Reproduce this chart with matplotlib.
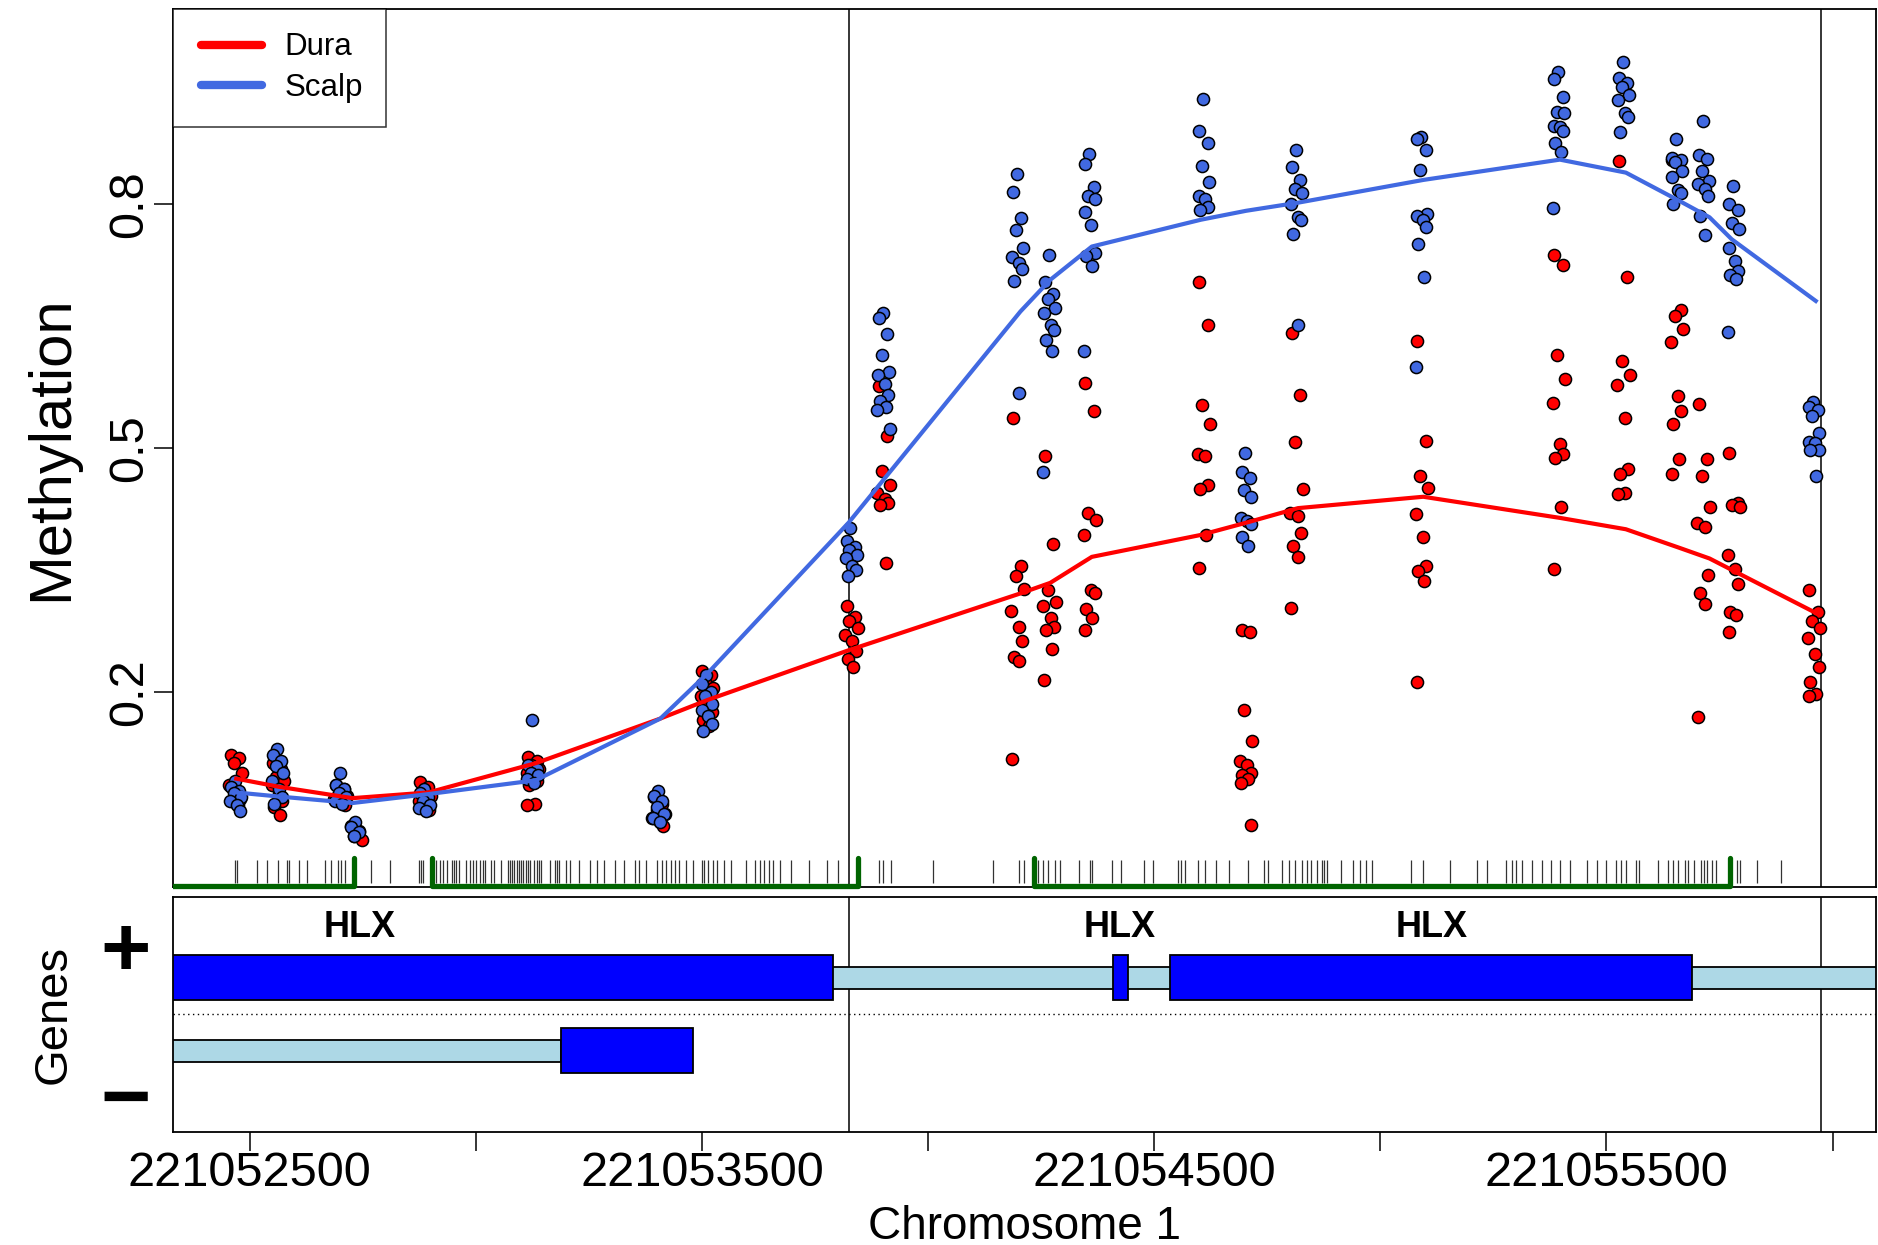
import numpy as np
import matplotlib
matplotlib.use('Agg')
import matplotlib.pyplot as plt
from matplotlib.patches import Rectangle
from matplotlib.transforms import Bbox, TransformedBbox

plt.rcParams['font.family'] = ['Liberation Sans', 'DejaVu Sans']

base = 221052000
x_range = [330, 4096]

# smoothed group means (offsets from base)
line_pos = [470, 564, 727, 895, 1132, 1408, 1513, 1824, 2204, 2270, 2362, 2603, 2703, 2818,
            3095, 3397, 3543, 3662, 3728, 3777, 3963]
dura_smooth = [0.093, 0.083, 0.069, 0.076, 0.112, 0.167, 0.190, 0.251, 0.321, 0.334, 0.366,
               0.393, 0.408, 0.426, 0.440, 0.414, 0.400, 0.377, 0.364, 0.350, 0.297]
scalp_smooth = [0.076, 0.071, 0.063, 0.074, 0.091, 0.167, 0.223, 0.408, 0.668, 0.707, 0.748,
                0.781, 0.792, 0.802, 0.830, 0.855, 0.839, 0.804, 0.784, 0.757, 0.681]

# per-sample values at each probe
cluster_pos = [469, 562, 701, 734, 887, 1126, 1404, 1511, 1830, 1902, 2198, 2269, 2358, 2610,
               2703, 2815, 3092, 3395, 3538, 3656, 3715, 3782, 3959]
dura_vals = [
    [0.122, 0.118, 0.112, 0.100, 0.085, 0.075, 0.068, 0.065, 0.060],
    [0.112, 0.105, 0.095, 0.090, 0.085, 0.075, 0.065, 0.058, 0.048],
    [0.085, 0.080, 0.075, 0.072, 0.068, 0.065, 0.060],
    [0.035, 0.028, 0.022, 0.017],
    [0.089, 0.083, 0.078, 0.072, 0.066, 0.060, 0.055],
    [0.120, 0.115, 0.110, 0.105, 0.100, 0.095, 0.090, 0.085, 0.062, 0.060],
    [0.070, 0.062, 0.055, 0.050, 0.045, 0.040, 0.035],
    [0.225, 0.220, 0.212, 0.205, 0.195, 0.185, 0.175, 0.165, 0.158],
    [0.305, 0.292, 0.287, 0.278, 0.270, 0.262, 0.250, 0.240, 0.230],
    [0.576, 0.515, 0.472, 0.455, 0.445, 0.437, 0.432, 0.430, 0.359],
    [0.537, 0.355, 0.343, 0.327, 0.299, 0.280, 0.262, 0.243, 0.238, 0.117],
    [0.490, 0.382, 0.325, 0.310, 0.306, 0.291, 0.280, 0.276, 0.252, 0.214],
    [0.580, 0.546, 0.420, 0.412, 0.393, 0.325, 0.322, 0.302, 0.291, 0.276],
    [0.704, 0.652, 0.553, 0.529, 0.493, 0.490, 0.455, 0.450, 0.393, 0.352],
    [0.276, 0.274, 0.177, 0.139, 0.115, 0.110, 0.100, 0.097, 0.093, 0.088, 0.036],
    [0.641, 0.565, 0.508, 0.449, 0.420, 0.416, 0.395, 0.379, 0.366, 0.303],
    [0.632, 0.509, 0.465, 0.451, 0.419, 0.391, 0.355, 0.348, 0.336, 0.212],
    [0.738, 0.725, 0.615, 0.585, 0.555, 0.505, 0.493, 0.488, 0.427, 0.351],
    [0.853, 0.710, 0.607, 0.590, 0.577, 0.537, 0.474, 0.468, 0.445, 0.443],
    [0.855, 0.670, 0.663, 0.646, 0.630, 0.564, 0.546, 0.530, 0.486, 0.468],
    [0.554, 0.486, 0.465, 0.428, 0.408, 0.403, 0.344, 0.322, 0.308, 0.169],
    [0.494, 0.432, 0.430, 0.427, 0.368, 0.351, 0.333, 0.298, 0.295, 0.273],
    [0.325, 0.298, 0.287, 0.278, 0.266, 0.246, 0.231, 0.212, 0.197, 0.195],
]
scalp_vals = [
    [0.090, 0.083, 0.078, 0.075, 0.070, 0.065, 0.060, 0.053],
    [0.130, 0.122, 0.115, 0.108, 0.100, 0.090, 0.080, 0.070, 0.062],
    [0.100, 0.085, 0.080, 0.075, 0.070, 0.065, 0.062],
    [0.040, 0.033, 0.027, 0.022],
    [0.080, 0.075, 0.070, 0.065, 0.060, 0.057, 0.053],
    [0.165, 0.110, 0.105, 0.100, 0.097, 0.092, 0.088],
    [0.078, 0.072, 0.065, 0.058, 0.050, 0.045, 0.040],
    [0.220, 0.210, 0.200, 0.195, 0.185, 0.178, 0.170, 0.160, 0.152],
    [0.402, 0.385, 0.378, 0.375, 0.368, 0.365, 0.355, 0.350, 0.342],
    [0.666, 0.660, 0.640, 0.614, 0.594, 0.590, 0.579, 0.565, 0.558, 0.550, 0.547, 0.524],
    [0.837, 0.815, 0.783, 0.768, 0.746, 0.735, 0.728, 0.720, 0.705, 0.568],
    [0.738, 0.704, 0.690, 0.684, 0.672, 0.666, 0.652, 0.645, 0.633, 0.619, 0.470],
    [0.862, 0.849, 0.821, 0.810, 0.806, 0.790, 0.774, 0.740, 0.736, 0.724, 0.620],
    [0.930, 0.890, 0.875, 0.847, 0.828, 0.810, 0.806, 0.797, 0.793],
    [0.494, 0.470, 0.463, 0.448, 0.440, 0.414, 0.410, 0.407, 0.390, 0.379],
    [0.867, 0.846, 0.830, 0.819, 0.814, 0.800, 0.784, 0.781, 0.763, 0.652],
    [0.883, 0.880, 0.867, 0.842, 0.788, 0.785, 0.781, 0.772, 0.751, 0.710, 0.600],
    [0.963, 0.954, 0.932, 0.914, 0.912, 0.897, 0.895, 0.890, 0.876, 0.864, 0.796],
    [0.975, 0.955, 0.949, 0.945, 0.934, 0.928, 0.913, 0.908, 0.889],
    [0.880, 0.857, 0.855, 0.852, 0.841, 0.833, 0.818, 0.814, 0.800],
    [0.902, 0.861, 0.856, 0.841, 0.829, 0.825, 0.819, 0.810, 0.785, 0.762],
    [0.822, 0.800, 0.793, 0.777, 0.770, 0.746, 0.730, 0.718, 0.713, 0.708, 0.643],
    [0.557, 0.550, 0.547, 0.540, 0.518, 0.508, 0.506, 0.498, 0.497, 0.466],
]
# horizontal spread of samples around a probe (bp)
jitter = [-10, 8, -4, 14, -14, 2, 10, -8, 4, -12, 12, -2]

# CpG sites and CpG islands
cpg_pos = [468, 471, 515, 537, 562, 582, 587, 608, 626, 666, 680, 695, 702, 710, 767, 811, 873,
           878, 883, 912, 920, 927, 937, 947, 952, 957, 962, 977, 986, 993, 1001, 1009, 1016,
           1021, 1033, 1041, 1056, 1070, 1075, 1080, 1085, 1090, 1095, 1100, 1105, 1110, 1115,
           1120, 1128, 1134, 1139, 1144, 1164, 1174, 1179, 1184, 1199, 1208, 1228, 1253, 1268,
           1283, 1307, 1327, 1352, 1361, 1376, 1401, 1411, 1421, 1431, 1440, 1450, 1465, 1480,
           1500, 1505, 1514, 1524, 1534, 1549, 1564, 1598, 1618, 1628, 1638, 1648, 1658, 1672,
           1697, 1736, 1776, 1801, 1892, 1901, 1917, 2010, 2143, 2201, 2211, 2244, 2254, 2265,
           2280, 2291, 2334, 2359, 2363, 2406, 2426, 2478, 2498, 2553, 2560, 2567, 2596, 2613,
           2636, 2665, 2708, 2742, 2751, 2782, 2797, 2811, 2826, 2837, 2847, 2861, 2871, 2876,
           2883, 2912, 2940, 2955, 2969, 2981, 3067, 3095, 3153, 3213, 3235, 3278, 3292, 3299,
           3314, 3335, 3357, 3378, 3397, 3419, 3457, 3479, 3500, 3522, 3532, 3543, 3565, 3572,
           3615, 3637, 3647, 3658, 3673, 3680, 3694, 3709, 3716, 3723, 3733, 3742, 3788, 3795,
           3834, 3885]
island_start = [150, 902, 2234]
island_end = [730, 1845, 3773]

dmr_bounds = [1825, 3974]

# gene models
plus_utr = [(150, 4300)]
plus_exons = [(150, 1790), (2408, 2441), (2534, 3690)]
minus_utr = [(150, 1189)]
minus_exons = [(1189, 1481)]
gene_labels = ['HLX', 'HLX', 'HLX']
gene_label_pos = [743, 2424, 3113]

x_ticks = [500, 1000, 1500, 2000, 2500, 3000, 3500, 4000]

red = '#FF0000'
blue = '#4169E1'

fig = plt.figure(figsize=(18.78, 12.45), dpi=100)
ax = fig.add_axes([0.0921, 0.2878, 0.9068, 0.7047])
gx = fig.add_axes([0.0921, 0.0908, 0.9068, 0.1890])

xl = (base + x_range[0], base + x_range[1])

# points
for pos, dv, sv in zip(cluster_pos, dura_vals, scalp_vals):
    dx = [base + pos + jitter[i % len(jitter)] for i in range(len(dv))]
    sx = [base + pos - jitter[(i + 5) % len(jitter)] for i in range(len(sv))]
    ax.scatter(dx, dv, s=76, c=red, edgecolors='black', linewidths=1.1, zorder=3)
    ax.scatter(sx, sv, s=76, c=blue, edgecolors='black', linewidths=1.1, zorder=3)

lp = [base + p for p in line_pos]
ax.plot(lp, dura_smooth, color=red, lw=3.0, zorder=4, label='Dura')
ax.plot(lp, scalp_smooth, color=blue, lw=3.0, zorder=4, label='Scalp')

# rug of CpG sites
ax.vlines([base + p for p in cpg_pos], -0.036, -0.007, color='0.2', lw=0.9, zorder=2)
clip = TransformedBbox(Bbox([[0, -0.05], [1, 1]]), ax.transAxes)
for s, e in zip(island_start, island_end):
    ln, = ax.plot([base + s, base + s, base + e, base + e], [-0.005, -0.039, -0.039, -0.005],
                  color='#006400', lw=3.8, solid_capstyle='round', solid_joinstyle='round',
                  zorder=5)
    ln.set_clip_box(clip)

for b in dmr_bounds:
    ax.axvline(base + b, color='black', lw=1.1, zorder=1)
    gx.axvline(base + b, color='black', lw=1.1, zorder=1)

ax.set_xlim(xl)
ax.set_ylim(-0.04, 1.04)
ax.set_xticks([])
ax.set_yticks([0.2, 0.5, 0.8], ['0.2', '0.5', '0.8'], rotation=90, va='center')
ax.tick_params(axis='y', length=14, width=1.1, labelsize=35, pad=1)
ax.set_ylabel('Methylation', fontsize=43, labelpad=20)

leg = ax.legend(loc='upper left', fontsize=22.5, frameon=True, fancybox=False,
                borderaxespad=0, handlelength=2.1, handletextpad=0.72,
                labelspacing=0.35, borderpad=0.74)
leg.get_frame().set_edgecolor('black')
leg.get_frame().set_linewidth(1.1)
for h in leg.legend_handles:
    h.set_linewidth(6)
    h.set_solid_capstyle('round')
    xd = np.asarray(h.get_xdata(), dtype=float)
    h.set_xdata(np.linspace(xd[0] + 0.07 * (xd[-1] - xd[0]), xd[-1], len(xd)))

# gene panel
gh_exon = 0.19
gh_utr = 0.095
for s, e in plus_utr:
    gx.add_patch(Rectangle((base + s, 0.31 - gh_utr), e - s, 2 * gh_utr,
                           facecolor='lightblue', edgecolor='black', lw=1.3))
for s, e in plus_exons:
    gx.add_patch(Rectangle((base + s, 0.31 - gh_exon), e - s, 2 * gh_exon,
                           facecolor='#0000FF', edgecolor='black', lw=1.3))
for s, e in minus_utr:
    gx.add_patch(Rectangle((base + s, -0.31 - gh_utr), e - s, 2 * gh_utr,
                           facecolor='lightblue', edgecolor='black', lw=1.3))
for s, e in minus_exons:
    gx.add_patch(Rectangle((base + s, -0.31 - gh_exon), e - s, 2 * gh_exon,
                           facecolor='#0000FF', edgecolor='black', lw=1.3))
for lab, p in zip(gene_labels, gene_label_pos):
    gx.text(base + p, 0.735, lab, ha='center', va='center', fontsize=26, fontweight='bold')
gx.axhline(0, color='black', lw=1.0, ls=(0, (1, 2.5)))

gx.set_xlim(xl)
gx.set_ylim(-1, 1)
gx.set_yticks([])
gx.text(-0.028, 0.51, '+', transform=gx.get_yaxis_transform(), ha='center', va='center',
        fontsize=62, fontweight='bold')
gx.text(-0.028, -0.75, '\u2212', transform=gx.get_yaxis_transform(), ha='center', va='center',
        fontsize=62, fontweight='bold')
gx.set_ylabel('Genes', fontsize=34, labelpad=70)
gx.set_xticks([base + t for t in x_ticks],
              [str(base + t) if i % 2 == 0 else '' for i, t in enumerate(x_ticks)])
gx.tick_params(axis='x', length=14, width=1.1, labelsize=35, pad=0)
gx.set_xlabel('Chromosome 1', fontsize=33, labelpad=6)

for a in (ax, gx):
    for sp in a.spines.values():
        sp.set_linewidth(1.3)

fig.savefig('out.png', dpi=100)
